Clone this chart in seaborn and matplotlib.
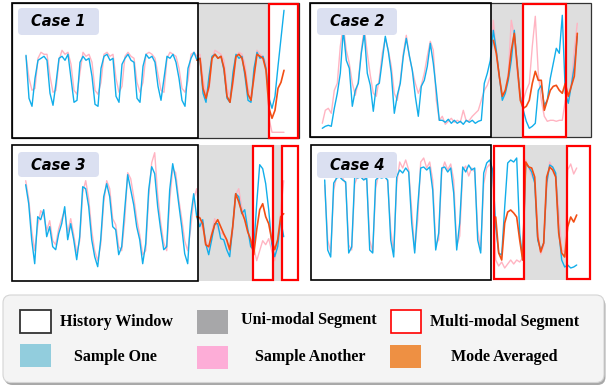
import numpy as np
import pandas as pd
import matplotlib
matplotlib.use("Agg")
import matplotlib.pyplot as plt
import seaborn as sns
from matplotlib.patches import Rectangle, FancyBboxPatch

sns.set_theme(style="white")
plt.rcParams['font.family'] = ['DejaVu Sans']

# ---------------- data (heights above panel bottom, one value per time step) ----------------
case1_one = [83,40,32,60,78,80,82,78,45,33, 55,80,82,78,84,60,36,38,76,82,
             78,80,62,34,32,70,82,84,78,80, 42,36,74,80,84,78,76,40,36,72,
             84,80,82,76,52,38,60,82,80,84, 76,60,38,32,70,80,86,78,80,45,
             36,62,82,84,80,82,68,40,36,66, 84,80,82,62,38,36,70,86,80,82,
             70,40,30,42,72,100,128]
case1_another = [82,60,48,50,80,86,84,84,62,46, 48,78,88,84,86,74,48,44,66,86,
                 82,84,76,48,44,56,84,86,82,84, 60,46,52,82,86,82,80,56,46,56,
                 84,86,84,80,64,48,46,80,86,84, 82,70,50,46,58,84,86,82,84,60,
                 44,48,80,88,86,84,78,50,42,52, 82,86,84,74,50,42,58,88,84,82,
                 76,20,6,6,6,6,6]
case1_avg = [78,80,50,40,52,80,84,80,82,70,42,36,58,82,84,80,66,44,38,62,84,82,80,68,30,20,28,50,56,68]

case2_one = [9,11,12,11,29,44,64,107,77,69, 31,47,54,84,104,64,52,26,52,54,
             77,101,86,64,24,42,54,81,99,82, 67,41,21,51,57,71,94,74,47,17,
             17,15,18,14,17,14,16,13,17,15, 17,14,16,17,54,64,77,107,87,61,
             37,44,57,77,107,71,41,27,16,9, 11,14,47,52,32,37,59,74,89,84,
             122,44,34,52,71,101]
case2_another = [14,27,29,24,47,54,91,112,87,74, 54,42,56,87,109,84,62,44,41,59,
                 84,99,87,71,44,37,57,84,102,81, 67,54,44,52,64,81,96,87,37,17,
                 21,13,16,19,15,17,15,27,16,17, 21,24,27,37,47,52,61,117,84,59,
                 41,47,64,117,101,64,41,37,47,54, 91,121,64,37,21,16,17,17,16,17,
                 17,37,44,52,87,114]
case2_avg = [97,84,61,41,47,61,87,104,71,37,29,31,37,54,66,57,57,27,37,47,51,52,47,44,54,41,51,61,104]

case3_one = [96,77,41,17,64,61,71,44,54,34, 31,47,57,74,41,57,41,21,44,94,
             92,74,41,24,14,41,84,97,84,54, 51,26,34,71,106,91,76,54,41,17,
             37,91,114,107,74,51,31,34,91,117, 101,77,54,27,17,64,87,64,54,61,
             37,26,41,57,57,42,41,31,24,54, 87,84,67,71,52,34,31,77,116,112,
             97,71,37,24,34,61,44]
case3_another = [100,82,50,30,55,70,66,50,60,40, 36,52,62,70,48,62,46,28,40,88,
                 100,82,50,30,20,36,78,100,92,62, 56,34,30,60,108,102,84,62,46,26,
                 30,84,118,128,86,58,38,30,80,112, 108,82,62,40,30,52,82,92,62,52,
                 42,30,48,62,52,48,46,40,30,48, 86,92,74,62,50,40,34,20,30,40,
                 36,42,30,20,40,70,100]
case3_avg = [64,63,57,36,34,46,56,61,54,47,41,31,54,87,79,69,61,49,41,26,51,71,77,64,57,41,31,41,64,67]

case4_one = [100,30,23,97,102,103,100,98,27,33, 103,102,103,100,102,30,27,100,103,102,
             103,100,40,23,103,110,107,112,108,57, 27,73,112,113,110,113,90,30,47,112,
             113,108,112,87,30,57,113,108,115,110, 112,40,27,107,117,120,110,53,27,25,
             73,117,120,118,122,47,20,117,113,108, 97,40,30,37,97,115,113,107,50,20,
             13,15,12,13,15]
case4_another = [95,40,28,90,104,106,102,96,35,30, 96,104,106,102,100,40,28,92,106,104,
                 106,98,50,28,96,118,112,120,110,70, 30,60,118,122,112,118,100,36,40,108,
                 118,110,116,100,34,44,110,114,104,112, 108,50,30,96,112,116,106,20,14,18,
                 12,16,20,16,20,18,22,120,112,104, 100,50,26,34,92,118,112,104,70,30,
                 28,110,116,106,112]
case4_avg = [63,27,20,57,68,70,67,63,40,20,118,113,112,103,43,28,37,103,113,110,103,47,27,23,53,63,58,65]

case_titles = ["Case 1", "Case 2", "Case 3", "Case 4"]
avg_start = [57, 57, 57, 57]
legend_labels = ["History Window", "Uni-modal Segment", "Multi-modal Segment",
                 "Sample One", "Sample Another", "Mode Averaged"]

series_one = [case1_one, case2_one, case3_one, case4_one]
series_another = [case1_another, case2_another, case3_another, case4_another]
series_avg = [case1_avg, case2_avg, case3_avg, case4_avg]

# ---------------- layout (pixels) ----------------
W, H = 608, 386
STEP = 3.0
panels = [  # left, top, right, bottom, first sample x
    (12, 3, 299, 138.3, 26.0),
    (310, 3, 591, 137.3, 322.3),
    (12, 145, 298, 280.7, 25.7),
    (311, 145, 590, 280.0, 324.7),
]
hist_right = [198, 491, 198, 491]
gray_spans = [[(198, 268)], [(491, 591)], [(198, 298)], [(524, 566)]]
red_boxes = [[(268.5, 298)], [(523, 566)], [(253, 273), (282, 298)], [(494, 524), (567, 590)]]
outer_frame = [True, True, False, False]
label_boxes = [(18, 8, 99, 35), (317, 8, 397, 35), (18, 152, 99, 177), (317, 152, 397, 178)]

C_ONE = "#12aeea"
C_ANO = "#ffb4c2"
C_AVG = "#f24e14"
C_GRAY = "#dedede"

fig = plt.figure(figsize=(W / 100, H / 100), dpi=100)

bg = fig.add_axes([0, 0, 1, 1], zorder=0)
bg.set_xlim(0, W); bg.set_ylim(H, 0); bg.axis("off")

top = fig.add_axes([0, 0, 1, 1], zorder=3)
top.set_xlim(0, W); top.set_ylim(H, 0); top.axis("off"); top.patch.set_alpha(0)

for k in range(4):
    L, T, R, B, x0 = panels[k]
    # background segments
    for a, b in gray_spans[k]:
        bg.add_patch(Rectangle((a, T), b - a, B - T, fc=C_GRAY, ec="none"))
    for a, b in red_boxes[k]:
        bg.add_patch(Rectangle((a, T), b - a, B - T, fc="white", ec="none"))

    # line panel
    pax = fig.add_axes([L / W, 1 - B / H, (R - L) / W, (B - T) / H], zorder=1)
    pax.patch.set_alpha(0)
    pax.set_xlim((L - x0) / STEP, (R - x0) / STEP)
    pax.set_ylim(0, B - T)
    pax.axis("off")
    rows = []
    for name, vals, s0 in [("another", series_another[k], 0), ("one", series_one[k], 0),
                           ("avg", series_avg[k], avg_start[k])]:
        for i, v in enumerate(vals):
            rows.append({"t": s0 + i, "value": v, "series": name})
    df = pd.DataFrame(rows)
    for name, col, lw in [("another", C_ANO, 1.0), ("one", C_ONE, 1.0), ("avg", C_AVG, 1.2)]:
        sns.lineplot(data=df[df.series == name], x="t", y="value", color=col, linewidth=lw,
                     ax=pax, legend=False, estimator=None, sort=False)
    pax.axis("off")

    # frames
    if outer_frame[k]:
        top.add_patch(Rectangle((L, T), R - L, B - T, fc="none", ec="#333333", lw=0.9))
    top.add_patch(Rectangle((L, T), hist_right[k] - L, B - T, fc="none", ec="black", lw=1.2))
    for a, b in red_boxes[k]:
        top.add_patch(Rectangle((a, T + 0.8), b - a, B - T - 1.6, fc="none", ec="#ff0000", lw=1.6))

    # case label
    x1, y1, x2, y2 = label_boxes[k]
    top.add_patch(FancyBboxPatch((x1, y1), x2 - x1, y2 - y1,
                                 boxstyle="round,pad=0,rounding_size=4",
                                 fc="#dbe0f1", ec="none"))
    top.text((x1 + x2) / 2, (y1 + y2) / 2 + 0.5, case_titles[k], ha="center", va="center",
             fontsize=10.5, fontweight="bold", fontstyle="italic", color="black")

# ---------------- legend ----------------
top.add_patch(FancyBboxPatch((4.5, 297.5), 601, 87.5, boxstyle="round,pad=0,rounding_size=8",
                             fc="#a8a8a8", ec="none"))
top.add_patch(FancyBboxPatch((3, 295), 601, 87.5, boxstyle="round,pad=0,rounding_size=8",
                             fc="#f4f4f4", ec="#d4d4d4", lw=0.8))

lfont = dict(family=["Liberation Serif", "DejaVu Serif"], fontweight="bold", fontsize=11.5,
             color="black", va="center")
# row 1
top.add_patch(Rectangle((19.5, 309.5), 31, 23.5, fc="white", ec="#333333", lw=1.3))
top.text(60, 321.5, legend_labels[0], ha="left", **lfont)
top.add_patch(Rectangle((197, 310), 31, 23.5, fc="#a7a7a9", ec="none"))
top.text(241, 320.5, legend_labels[1], ha="left", **lfont)
top.add_patch(Rectangle((390.5, 309.5), 30.5, 23.5, fc="white", ec="#ff0000", lw=1.2))
top.text(430, 322, legend_labels[2], ha="left", **lfont)
# row 2
top.add_patch(Rectangle((20, 344), 31, 23, fc="#92cddd", ec="none"))
top.text(115, 357, legend_labels[3], ha="center", **lfont)
top.add_patch(Rectangle((197, 346), 31, 23, fc="#fdadd7", ec="none"))
top.text(310, 357, legend_labels[4], ha="center", **lfont)
top.add_patch(Rectangle((390, 345), 31, 23, fc="#ee9043", ec="none"))
top.text(504, 357, legend_labels[5], ha="center", **lfont)

fig.savefig("out.png", dpi=100)
